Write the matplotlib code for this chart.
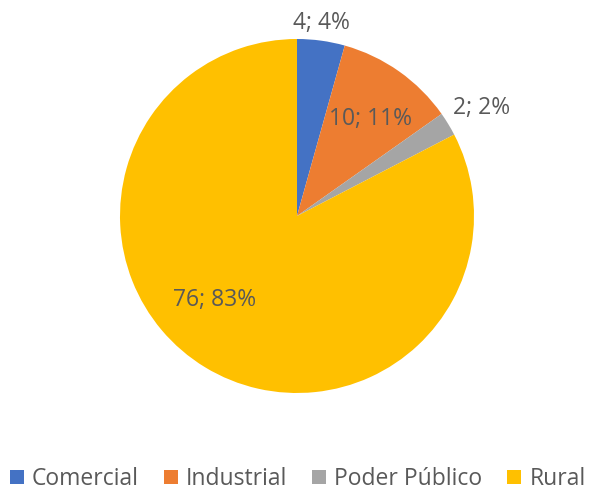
import matplotlib
matplotlib.use("Agg")
import matplotlib.pyplot as plt
import numpy as np

plt.rcParams["font.family"] = ["Open Sans", "DejaVu Sans"]

categories = ["Comercial", "Industrial", "Poder Público", "Rural"]
values = [4, 10, 2, 76]
colors = ["#4472C4", "#ED7D31", "#A5A5A5", "#FFC000"]
# label radius (in pie radii) and angular nudge (deg) for each slice label
label_r = [1.10, 0.69, 1.21, 0.665]
label_nudge = [0.6, -2, -1, -13]
TEXT = "#595959"

fig = plt.figure(figsize=(5.92, 4.90), dpi=100)
R = 177
cx, cy = 297, 216
ax = fig.add_axes([(cx - R) / 592, (490 - cy - R) / 490, 2 * R / 592, 2 * R / 490])
wedges, _ = ax.pie(values, colors=colors, startangle=90, counterclock=False,
                   radius=1.0, wedgeprops=dict(linewidth=0))
ax.set_xlim(-1, 1); ax.set_ylim(-1, 1)
ax.set_aspect("equal")

total = sum(values)
for w, v, r, d in zip(wedges, values, label_r, label_nudge):
    mid = np.deg2rad((w.theta1 + w.theta2) / 2 + d)
    ax.text(r * np.cos(mid), r * np.sin(mid), f"{v}; {round(100 * v / total)}%",
            ha="center", va="center", fontsize=16.5, color=TEXT, clip_on=False)

fig.legend(wedges, categories, loc="center", bbox_to_anchor=(0.503, 1 - 479 / 490),
           ncol=4, frameon=False, fontsize=16.5, handlelength=0.6, handleheight=0.6,
           handletextpad=0.35, columnspacing=1.1, labelcolor=TEXT)

fig.savefig("out.png", dpi=100)
